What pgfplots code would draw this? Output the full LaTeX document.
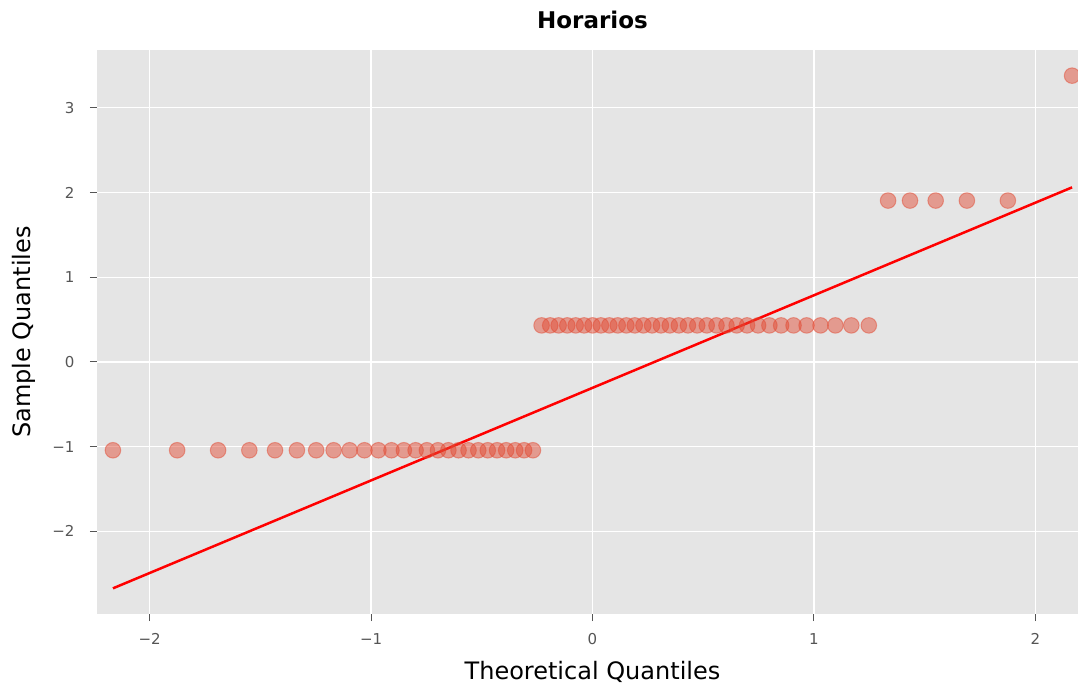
\documentclass[border=0pt]{standalone}
\usepackage{fontspec}
\setmainfont{DejaVu Sans}
\usepackage{pgfplots}
\pgfplotsset{compat=1.18}
\definecolor{ggbg}{HTML}{E5E5E5}
\definecolor{ggred}{HTML}{E24A33}
\definecolor{ticklab}{HTML}{555555}
\begin{document}
\begin{tikzpicture}
\begin{axis}[
  name=ax,
  scale only axis, width=991pt, height=564pt,
  xmin=-2.238, xmax=2.238, ymin=-2.977, ymax=3.683,
  axis background/.style={fill=ggbg},
  axis line style={draw=none},
  grid=major, grid style={white, line width=1.3pt},
  xtick={-2,-1,0,1,2}, xticklabels={−2,−1,0,1,2},
  ytick={-2,-1,0,1,2,3}, yticklabels={−2,−1,0,1,2,3},
  tick pos=left,
  tick align=outside, major tick length=7pt,
  tick style={ticklab, line width=1pt},
  ticklabel style={font=\fontsize{15}{18}\selectfont, text=ticklab},
  xticklabel style={yshift=-9pt},
  yticklabel style={xshift=-12pt},
  title={Horarios},
  title style={font=\fontsize{23}{27}\selectfont\bfseries, at={(axis description cs:0.5,1.0426)}, anchor=center},
  xlabel={Theoretical Quantiles},
  xlabel style={font=\fontsize{24}{28}\selectfont, at={(axis description cs:0.5,-0.1028)}, anchor=center},
  ylabel={Sample Quantiles},
  ylabel style={font=\fontsize{24}{28}\selectfont, at={(axis description cs:-0.0737,0.5)}, anchor=center, rotate=0},
]
\addplot[only marks, mark=*, mark size=7.8pt,
  mark options={fill=ggred, draw=ggred, opacity=0.48, line width=1pt}]
  coordinates {
  (-2.166,-1.0435) (-1.876,-1.0435) (-1.691,-1.0435) (-1.550,-1.0435) (-1.434,-1.0435)
  (-1.335,-1.0435) (-1.248,-1.0435) (-1.169,-1.0435) (-1.097,-1.0435) (-1.030,-1.0435)
  (-0.967,-1.0435) (-0.908,-1.0435) (-0.852,-1.0435) (-0.799,-1.0435) (-0.748,-1.0435)
  (-0.698,-1.0435) (-0.651,-1.0435) (-0.605,-1.0435) (-0.560,-1.0435) (-0.516,-1.0435)
  (-0.473,-1.0435) (-0.431,-1.0435) (-0.390,-1.0435) (-0.349,-1.0435) (-0.309,-1.0435)
  (-0.269,-1.0435)
  (-0.230,0.431) (-0.191,0.431) (-0.153,0.431) (-0.114,0.431) (-0.076,0.431)
  (-0.038,0.431) (0.000,0.431) (0.038,0.431) (0.076,0.431) (0.114,0.431)
  (0.153,0.431) (0.191,0.431) (0.230,0.431) (0.269,0.431) (0.309,0.431)
  (0.349,0.431) (0.390,0.431) (0.431,0.431) (0.473,0.431) (0.516,0.431)
  (0.560,0.431) (0.605,0.431) (0.651,0.431) (0.698,0.431) (0.748,0.431)
  (0.799,0.431) (0.852,0.431) (0.908,0.431) (0.967,0.431) (1.030,0.431)
  (1.097,0.431) (1.169,0.431) (1.248,0.431)
  (1.335,1.905) (1.434,1.905) (1.550,1.905) (1.691,1.905) (1.876,1.905)
  (2.166,3.380)
  };
\addplot[red, line width=2.5pt] coordinates {(-2.166,-2.674) (2.166,2.061)};
\end{axis}
\pgfresetboundingbox
\useasboundingbox ([xshift=-97pt,yshift=-72pt]ax.south west) rectangle ([xshift=-10pt,yshift=50pt]ax.north east);
\end{tikzpicture}
\end{document}
